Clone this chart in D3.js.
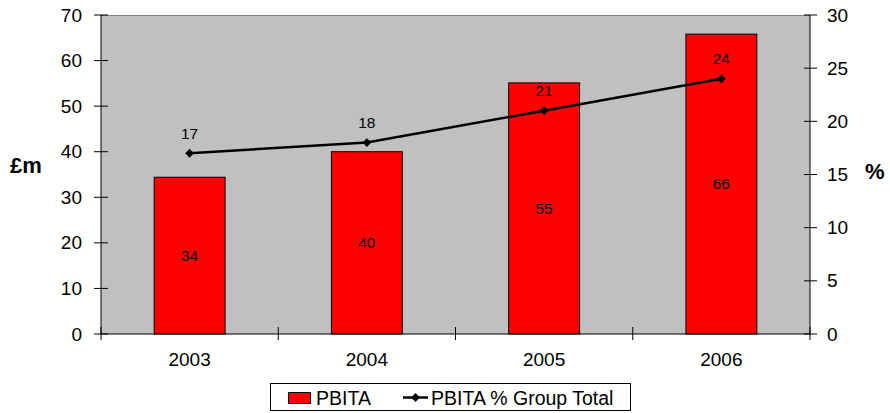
<!DOCTYPE html>
<html>
<head>
<meta charset="utf-8">
<script src="https://cdn.jsdelivr.net/npm/d3@7"></script>
<style>
  body { margin: 0; background: #fff; }
  text { font-family: "Liberation Sans", Arial, sans-serif; }
</style>
</head>
<body>
<script>
var WIDTH = 890;
var HEIGHT = 413;

// data
var years = ["2003", "2004", "2005", "2006"];
var pbita = [34.4, 40, 55.1, 65.8];          // £m, bars (left axis)
var pbitaPct = [17, 18, 21, 24];             // %, line (right axis)
var leftTicks = [0, 10, 20, 30, 40, 50, 60, 70];
var rightTicks = [0, 5, 10, 15, 20, 25, 30];

var plot = { left: 101, right: 810, top: 15, bottom: 334 };

var svg = d3.select("body").append("svg")
    .attr("width", WIDTH)
    .attr("height", HEIGHT);

var x = d3.scaleBand()
    .domain(years)
    .range([plot.left, plot.right]);

var yLeft = d3.scaleLinear().domain([0, 70]).range([plot.bottom, plot.top]);
var yRight = d3.scaleLinear().domain([0, 30]).range([plot.bottom, plot.top]);

// plot background
svg.append("rect")
    .attr("x", plot.left)
    .attr("y", plot.top)
    .attr("width", plot.right - plot.left)
    .attr("height", plot.bottom - plot.top)
    .attr("fill", "#c0c0c0");
svg.append("line")
    .attr("x1", plot.left).attr("x2", plot.right)
    .attr("y1", plot.top + 0.5).attr("y2", plot.top + 0.5)
    .attr("stroke", "#808080").attr("stroke-width", 1);

// bars - excel gap width 150%
var barW = x.bandwidth() / 2.5;
svg.selectAll("rect.bar")
    .data(years)
    .enter().append("rect")
    .attr("class", "bar")
    .attr("x", d => x(d) + (x.bandwidth() - barW) / 2)
    .attr("y", (d, i) => yLeft(pbita[i]))
    .attr("width", barW)
    .attr("height", (d, i) => plot.bottom - yLeft(pbita[i]))
    .attr("fill", "#ff0000")
    .attr("stroke", "#000")
    .attr("stroke-width", 1);

svg.selectAll("text.barlabel")
    .data(years)
    .enter().append("text")
    .attr("class", "barlabel")
    .attr("x", d => x(d) + x.bandwidth() / 2)
    .attr("y", (d, i) => (yLeft(pbita[i]) + plot.bottom) / 2)
    .attr("dy", ".35em")
    .attr("text-anchor", "middle")
    .attr("font-size", "15.5px")
    .text((d, i) => Math.round(pbita[i]));

// axes
var leftAxis = d3.axisLeft(yLeft).tickValues(leftTicks).tickSize(0).tickPadding(19);
var gl = svg.append("g").attr("transform", "translate(" + plot.left + ",0)").call(leftAxis);
var rightAxis = d3.axisRight(yRight).tickValues(rightTicks).tickSize(0).tickPadding(17);
var gr = svg.append("g").attr("transform", "translate(" + plot.right + ",0)").call(rightAxis);
var bottomAxis = d3.axisBottom(x).tickSize(0).tickPadding(19);
var gb = svg.append("g").attr("transform", "translate(0," + plot.bottom + ")").call(bottomAxis);

[gl, gr, gb].forEach(function(g) {
    g.select(".domain").remove();
    g.selectAll("text").attr("font-size", "19px").attr("fill", "#000")
        .attr("font-family", "Liberation Sans, Arial, sans-serif");
});

// axis lines and crossing tick marks
svg.append("line").attr("x1", plot.left).attr("x2", plot.left)
    .attr("y1", plot.top).attr("y2", plot.bottom).attr("stroke", "#000");
svg.append("line").attr("x1", plot.right).attr("x2", plot.right)
    .attr("y1", plot.top).attr("y2", plot.bottom).attr("stroke", "#000");
svg.append("line").attr("x1", plot.left).attr("x2", plot.right)
    .attr("y1", plot.bottom).attr("y2", plot.bottom).attr("stroke", "#000");

svg.selectAll("line.ltick").data(leftTicks).enter().append("line")
    .attr("x1", plot.left - 7).attr("x2", plot.left + 7)
    .attr("y1", d => yLeft(d)).attr("y2", d => yLeft(d))
    .attr("stroke", "#000");
svg.selectAll("line.rtick").data(rightTicks).enter().append("line")
    .attr("x1", plot.right - 6).attr("x2", plot.right + 7)
    .attr("y1", d => yRight(d)).attr("y2", d => yRight(d))
    .attr("stroke", "#000");
var xTickPos = years.map(d => x(d)).concat([plot.right]);
svg.selectAll("line.xtick").data(xTickPos).enter().append("line")
    .attr("x1", d => d).attr("x2", d => d)
    .attr("y1", plot.bottom - 7).attr("y2", plot.bottom + 6)
    .attr("stroke", "#000");

// line series
var line = d3.line()
    .x((d, i) => x(years[i]) + x.bandwidth() / 2)
    .y(d => yRight(d));
svg.append("path")
    .datum(pbitaPct)
    .attr("d", line)
    .attr("fill", "none")
    .attr("stroke", "#000")
    .attr("stroke-width", 2.5);

var diamond = d3.symbol().type(d3.symbolDiamond2).size(50);
svg.selectAll("path.marker").data(pbitaPct).enter().append("path")
    .attr("class", "marker")
    .attr("d", diamond)
    .attr("transform", (d, i) => "translate(" + (x(years[i]) + x.bandwidth() / 2) + "," + yRight(d) + ")")
    .attr("fill", "#000");

svg.selectAll("text.ptlabel").data(pbitaPct).enter().append("text")
    .attr("class", "ptlabel")
    .attr("x", (d, i) => x(years[i]) + x.bandwidth() / 2)
    .attr("y", d => yRight(d) - 20)
    .attr("dy", ".35em")
    .attr("text-anchor", "middle")
    .attr("font-size", "15.5px")
    .text(d => d);

// axis titles
svg.append("text")
    .attr("x", 10).attr("y", 173)
    .attr("font-size", "22px").attr("font-weight", "bold")
    .text("£m");
svg.append("text")
    .attr("x", 865).attr("y", 179)
    .attr("font-size", "22px").attr("font-weight", "bold")
    .text("%");

// legend
var legend = svg.append("g");
legend.append("rect")
    .attr("x", 270.5).attr("y", 383.5)
    .attr("width", 360).attr("height", 27)
    .attr("fill", "#fff").attr("stroke", "#000");
legend.append("rect")
    .attr("x", 288.5).attr("y", 392.5)
    .attr("width", 22).attr("height", 11)
    .attr("fill", "#ff0000").attr("stroke", "#000");
legend.append("text")
    .attr("x", 316).attr("y", 404.5)
    .attr("font-size", "19.5px")
    .text("PBITA");
legend.append("line")
    .attr("x1", 403).attr("x2", 428).attr("y1", 397.5).attr("y2", 397.5)
    .attr("stroke", "#000").attr("stroke-width", 2.5);
legend.append("path")
    .attr("d", diamond)
    .attr("transform", "translate(415.5,397.5)")
    .attr("fill", "#000");
legend.append("text")
    .attr("x", 431).attr("y", 404.5)
    .attr("font-size", "19.5px")
    .text("PBITA % Group Total");
</script>
</body>
</html>
